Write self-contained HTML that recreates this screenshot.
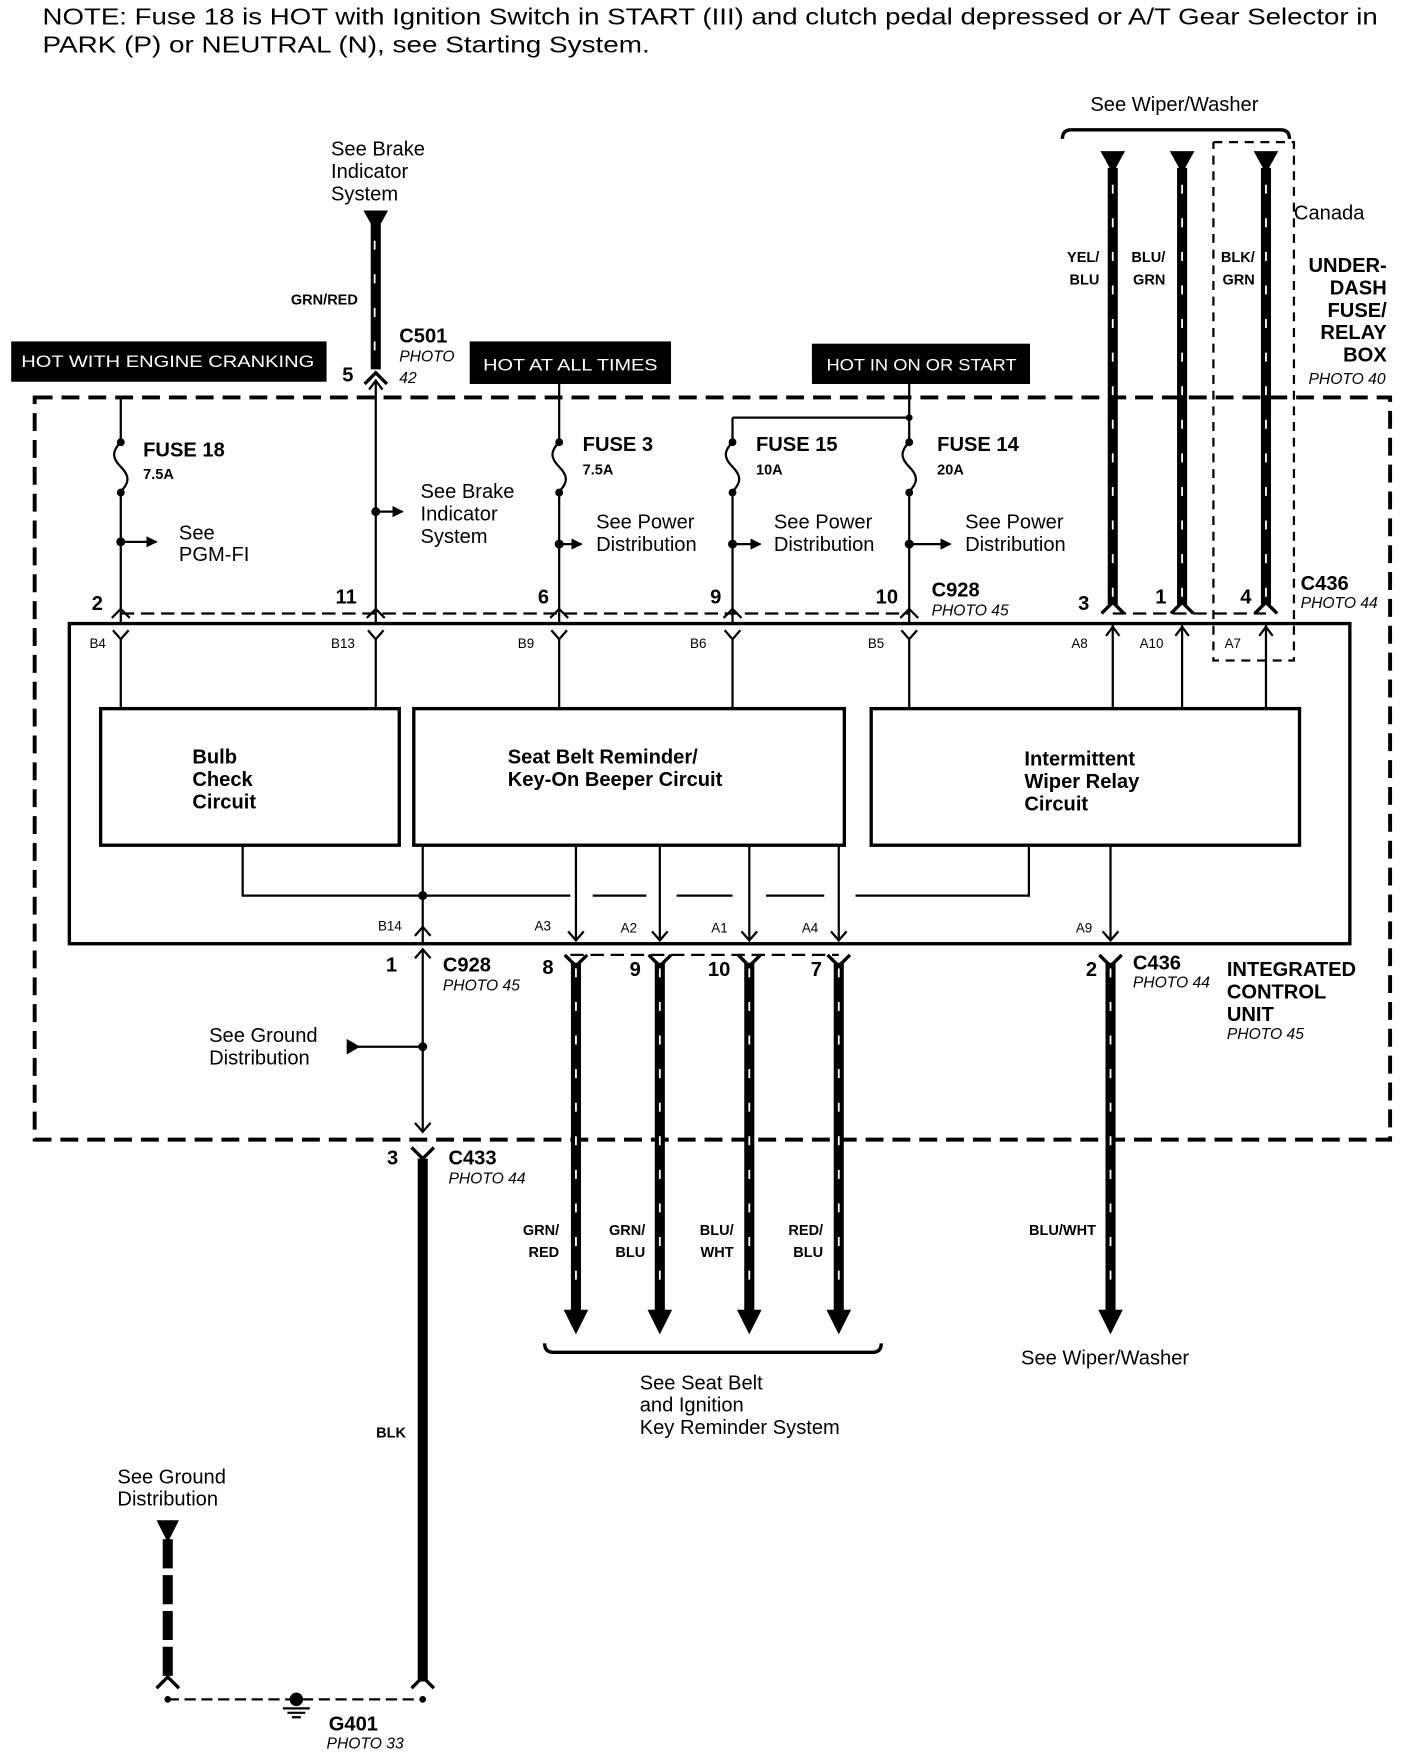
<!DOCTYPE html>
<html><head><meta charset="utf-8"><style>
html,body{margin:0;padding:0;background:#fff;}
svg{display:block;}
text{font-family:"Liberation Sans",Arial,sans-serif;fill:#000;}
.b{font-weight:bold;}
.i{font-style:italic;}
</style></head><body>
<svg width="1408" height="1752" viewBox="0 0 1259 1565" preserveAspectRatio="none" xmlns="http://www.w3.org/2000/svg">
<defs>
<marker id="ah" viewBox="0 0 10 10" refX="9" refY="5" markerWidth="5" markerHeight="5" orient="auto"><path d="M0,0 L10,5 L0,10z" fill="#000"/></marker>
</defs>
<text x="38" y="22" font-size="21" textLength="1194" lengthAdjust="spacingAndGlyphs">NOTE: Fuse 18 is HOT with Ignition Switch in START (III) and clutch pedal depressed or A/T Gear Selector in</text>
<text x="38" y="47" font-size="21" textLength="543" lengthAdjust="spacingAndGlyphs">PARK (P) or NEUTRAL (N), see Starting System.</text>

<rect x="10" y="305" width="282" height="36" fill="#000"/>
<text x="19" y="328" font-size="15" textLength="262" lengthAdjust="spacingAndGlyphs" style="fill:#fff">HOT WITH ENGINE CRANKING</text>
<rect x="420" y="305" width="180" height="38" fill="#000"/>
<text x="432" y="331" font-size="15" textLength="156" lengthAdjust="spacingAndGlyphs" style="fill:#fff">HOT AT ALL TIMES</text>
<rect x="726" y="307" width="195" height="36" fill="#000"/>
<text x="739" y="331" font-size="15" textLength="170" lengthAdjust="spacingAndGlyphs" style="fill:#fff">HOT IN ON OR START</text>

<rect x="31" y="355" width="1212" height="663" fill="none" stroke="#000" stroke-width="3.5" stroke-dasharray="16 8"/>
<rect x="62" y="557" width="1145" height="286" fill="none" stroke="#000" stroke-width="3"/>
<rect x="90" y="633" width="267" height="122" fill="none" stroke="#000" stroke-width="3"/>
<rect x="370" y="633" width="385" height="122" fill="none" stroke="#000" stroke-width="3"/>
<rect x="779" y="633" width="383" height="122" fill="none" stroke="#000" stroke-width="3"/>
<text class="b" font-size="18" x="172" y="682">Bulb</text>
<text class="b" font-size="18" x="172" y="702">Check</text>
<text class="b" font-size="18" x="172" y="722">Circuit</text>
<text class="b" font-size="18" x="454" y="682">Seat Belt Reminder/</text>
<text class="b" font-size="18" x="454" y="702">Key-On Beeper Circuit</text>
<text class="b" font-size="18" x="916" y="684">Intermittent</text>
<text class="b" font-size="18" x="916" y="704">Wiper Relay</text>
<text class="b" font-size="18" x="916" y="724">Circuit</text>

<g stroke="#000" stroke-width="2" fill="none">
<path d="M108 355 V395 M108 440 V557"/>
<path d="M108 395 c-8 8 -8 14 0 22 c8 8 8 14 0 22"/>
<path d="M108 484 H140" marker-end="url(#ah)"/>
<path d="M336 340 V557"/>
<path d="M336 457 H360" marker-end="url(#ah)"/>
<path d="M330 348 L336 340 L342 348"/>
<path d="M500 343 V395 M500 440 V557"/>
<path d="M500 395 c-8 8 -8 14 0 22 c8 8 8 14 0 22"/>
<path d="M500 486 H520" marker-end="url(#ah)"/>
<path d="M655 373 H813 M655 373 V395 M655 440 V557"/>
<path d="M655 395 c-8 8 -8 14 0 22 c8 8 8 14 0 22"/>
<path d="M655 486 H680" marker-end="url(#ah)"/>
<path d="M813 343 V395 M813 440 V557"/>
<path d="M813 395 c-8 8 -8 14 0 22 c8 8 8 14 0 22"/>
<path d="M813 486 H850" marker-end="url(#ah)"/>
<path d="M108 548 H813" stroke-dasharray="12 6"/>
<path d="M101 563 L108 571 L115 563 M108 571 V633"/>
<path d="M329 563 L336 571 L343 563 M336 571 V633"/>
<path d="M493 563 L500 571 L507 563 M500 571 V633"/>
<path d="M648 563 L655 571 L662 563 M655 571 V633"/>
<path d="M806 563 L813 571 L820 563 M813 571 V633"/>
<path d="M100 552 L108 544 L116 552 M328 552 L336 544 L344 552 M492 552 L500 544 L508 552 M647 552 L655 544 L663 552 M805 552 L813 544 L821 552"/>
<path d="M995 557 V633 M1057 557 V633 M1132 557 V633"/>
<path d="M989 568 L995 560 L1001 568 M1051 568 L1057 560 L1063 568 M1126 568 L1132 560 L1138 568"/>
<path d="M995 548 H1132" stroke-dasharray="12 6"/>
<path d="M1085 127 H1157 V590 H1085 V127" stroke-dasharray="8 6"/>
<path d="M950 124 Q950 116 958 116 H1145 Q1153 116 1153 124" stroke-width="3"/>
<path d="M217 755 V800 H510 M530 800 H578 M605 800 H655 M685 800 H737 M765 800 H920 V755"/>
<path d="M378 755 V843"/>
<path d="M515 755 V840 M590 755 V840 M670 755 V840 M750 755 V840 M993 755 V840"/>
<path d="M508 832 L515 840 L522 832 M583 832 L590 840 L597 832 M663 832 L670 840 L677 832 M743 832 L750 840 L757 832 M986 832 L993 840 L1000 832"/>
<path d="M371 836 L378 828 L385 836"/>
<path d="M510 853 H750" stroke-dasharray="12 6"/>
<path d="M378 848 V1010"/>
<path d="M371 856 L378 848 L385 856 M371 1003 L378 1011 L385 1003"/>
<path d="M310 935 H378"/>
<path d="M150 1518 H378" stroke-dasharray="10 5"/>
<path d="M487 1200 Q487 1208 495 1208 H780 Q788 1208 788 1200" stroke-width="3"/>
</g>
<g fill="#000">
<circle cx="108" cy="395" r="3.5"/><circle cx="108" cy="440" r="3.5"/><circle cx="108" cy="484" r="4"/>
<circle cx="336" cy="457" r="4"/>
<circle cx="500" cy="395" r="3.5"/><circle cx="500" cy="440" r="3.5"/><circle cx="500" cy="486" r="4"/>
<circle cx="655" cy="395" r="3.5"/><circle cx="655" cy="440" r="3.5"/><circle cx="655" cy="486" r="4"/>
<circle cx="813" cy="395" r="3.5"/><circle cx="813" cy="440" r="3.5"/><circle cx="813" cy="486" r="4"/>
<circle cx="813" cy="373" r="3"/>
<circle cx="378" cy="800" r="4"/><circle cx="378" cy="935" r="4"/>
<circle cx="150" cy="1518" r="3"/><circle cx="378" cy="1518" r="3"/>
<path d="M310 928 L322 935 L310 942z"/>
<path d="M325 188 H347 L336 208z"/>
<path d="M984 135 H1006 L995 155z"/>
<path d="M1046 135 H1068 L1057 155z"/>
<path d="M1121 135 H1143 L1132 155z"/>
<path d="M504 1170 H526 L515 1192z"/>
<path d="M579 1170 H601 L590 1192z"/>
<path d="M659 1170 H681 L670 1192z"/>
<path d="M739 1170 H761 L750 1192z"/>
<path d="M982 1170 H1004 L993 1192z"/>
<path d="M140 1358 H160 L150 1378z"/>
</g>
<g stroke="#000" stroke-width="9" fill="none">
<path d="M336 200 V330"/>
<path d="M995 150 V540 M1057 150 V540 M1132 150 V540"/>
<path d="M515 860 V1172 M590 860 V1172 M670 860 V1172 M750 860 V1172 M993 860 V1172"/>
<path d="M378 1035 V1502"/>
<path d="M150 1375 V1500" stroke-dasharray="26 6"/>
</g>
<g stroke="#fff" stroke-width="1.6" fill="none" stroke-dasharray="8 22">
<path d="M335 215 V330"/>
<path d="M995 165 V535 M1057 165 V535 M1132 165 V535"/>
<path d="M515 865 V1165 M590 865 V1165 M670 865 V1165 M750 865 V1165 M993 865 V1165"/>
</g>
<g stroke="#000" stroke-width="3" fill="none">
<path d="M326 343 L336 333 L346 343"/>
<path d="M985 548 L995 538 L1005 548 M1047 548 L1057 538 L1067 548 M1122 548 L1132 538 L1142 548"/>
<path d="M505 853 L515 863 L525 853 M580 853 L590 863 L600 853 M660 853 L670 863 L680 853 M740 853 L750 863 L760 853 M983 853 L993 863 L1003 853"/>
<path d="M368 1025 L378 1035 L388 1025"/>
<path d="M140 1508 L150 1498 L160 1508 M368 1508 L378 1498 L388 1508"/>
</g>
<g stroke="#000" stroke-width="2"><path d="M265 1512 V1518 M253 1526 H277 M257 1530 H273 M261 1534 H269"/></g>
<circle cx="265" cy="1518" r="6" fill="#000"/>

<g font-size="18">
<text x="296" y="139">See Brake</text><text x="296" y="159">Indicator</text><text x="296" y="179">System</text>
<text x="975" y="99">See Wiper/Washer</text>
<text x="1157" y="196">Canada</text>
<text x="160" y="482">See</text><text x="160" y="501">PGM-FI</text>
<text x="376" y="445">See Brake</text><text x="376" y="465">Indicator</text><text x="376" y="485">System</text>
<text x="533" y="472">See Power</text><text x="533" y="492">Distribution</text>
<text x="692" y="472">See Power</text><text x="692" y="492">Distribution</text>
<text x="863" y="472">See Power</text><text x="863" y="492">Distribution</text>
<text x="187" y="931">See Ground</text><text x="187" y="951">Distribution</text>
<text x="572" y="1241">See Seat Belt</text><text x="572" y="1261">and Ignition</text><text x="572" y="1281">Key Reminder System</text>
<text x="913" y="1219">See Wiper/Washer</text>
<text x="105" y="1325">See Ground</text><text x="105" y="1345">Distribution</text>
</g>
<g class="b" font-size="18">
<text x="128" y="408">FUSE 18</text>
<text x="521" y="403">FUSE 3</text>
<text x="676" y="403">FUSE 15</text>
<text x="838" y="403">FUSE 14</text>
<text x="357" y="306">C501</text>
<text x="833" y="533">C928</text>
<text x="1163" y="527">C436</text>
<text x="396" y="868">C928</text>
<text x="1013" y="866">C436</text>
<text x="401" y="1040">C433</text>
<text x="294" y="1546">G401</text>
<text x="1240" y="243" text-anchor="end">UNDER-</text>
<text x="1240" y="263" text-anchor="end">DASH</text>
<text x="1240" y="283" text-anchor="end">FUSE/</text>
<text x="1240" y="303" text-anchor="end">RELAY</text>
<text x="1240" y="323" text-anchor="end">BOX</text>
<text x="1097" y="872">INTEGRATED</text>
<text x="1097" y="892">CONTROL</text>
<text x="1097" y="912">UNIT</text>
<text x="306" y="341">5</text>
<text x="82" y="545">2</text><text x="300" y="539">11</text><text x="481" y="539">6</text><text x="635" y="539">9</text><text x="783" y="539">10</text>
<text x="964" y="545">3</text><text x="1033" y="539">1</text><text x="1109" y="539">4</text>
<text x="345" y="868">1</text><text x="485" y="870">8</text><text x="563" y="872">9</text><text x="633" y="872">10</text><text x="725" y="872">7</text><text x="971" y="872">2</text>
<text x="346" y="1040">3</text>
</g>
<g class="b" font-size="13">
<text x="128" y="428">7.5A</text><text x="521" y="424">7.5A</text><text x="676" y="424">10A</text><text x="838" y="424">20A</text>
<text x="320" y="272" text-anchor="end">GRN/RED</text>
<text x="983" y="234" text-anchor="end">YEL/</text><text x="983" y="254" text-anchor="end">BLU</text>
<text x="1042" y="234" text-anchor="end">BLU/</text><text x="1042" y="254" text-anchor="end">GRN</text>
<text x="1122" y="234" text-anchor="end">BLK/</text><text x="1122" y="254" text-anchor="end">GRN</text>
<text x="500" y="1103" text-anchor="end">GRN/</text><text x="500" y="1123" text-anchor="end">RED</text>
<text x="577" y="1103" text-anchor="end">GRN/</text><text x="577" y="1123" text-anchor="end">BLU</text>
<text x="656" y="1103" text-anchor="end">BLU/</text><text x="656" y="1123" text-anchor="end">WHT</text>
<text x="736" y="1103" text-anchor="end">RED/</text><text x="736" y="1123" text-anchor="end">BLU</text>
<text x="980" y="1103" text-anchor="end">BLU/WHT</text>
<text x="363" y="1284" text-anchor="end">BLK</text>
</g>
<g font-size="12">
<text x="80" y="579">B4</text><text x="296" y="579">B13</text><text x="463" y="579">B9</text><text x="617" y="579">B6</text><text x="776" y="579">B5</text>
<text x="958" y="579">A8</text><text x="1019" y="579">A10</text><text x="1095" y="579">A7</text>
<text x="338" y="831">B14</text><text x="478" y="831">A3</text><text x="555" y="833">A2</text><text x="636" y="833">A1</text><text x="717" y="833">A4</text><text x="962" y="833">A9</text>
</g>
<g class="i" font-size="14">
<text x="357" y="323">PHOTO</text><text x="357" y="342">42</text>
<text x="833" y="550">PHOTO 45</text>
<text x="1163" y="543">PHOTO 44</text>
<text x="1170" y="343">PHOTO 40</text>
<text x="396" y="885">PHOTO 45</text>
<text x="1013" y="882">PHOTO 44</text>
<text x="1097" y="928">PHOTO 45</text>
<text x="401" y="1057">PHOTO 44</text>
<text x="292" y="1562">PHOTO 33</text>
</g>
</svg>
</body></html>
